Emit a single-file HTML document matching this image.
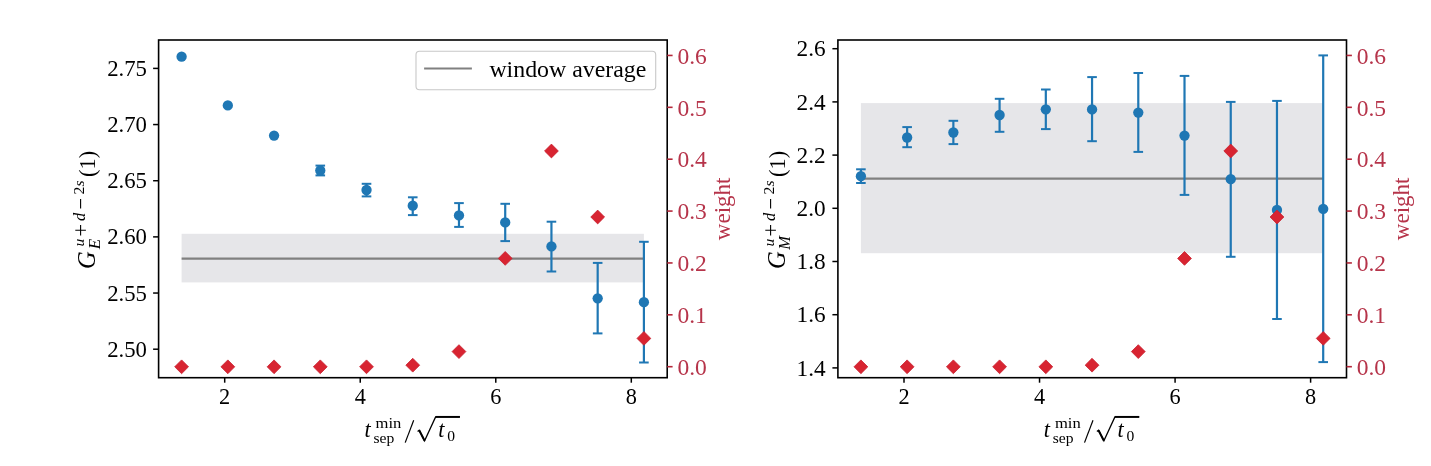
<!DOCTYPE html>
<html><head><meta charset="utf-8"><style>
html,body{margin:0;padding:0;background:#fff;}
svg{display:block;will-change:transform;}
text{font-family:"Liberation Serif",serif;}
.t{font-size:22.3px;}
.i{font-size:22.3px;font-style:italic;}
.s{font-size:15.6px;}
.si{font-size:15.6px;font-style:italic;}
</style></head><body>
<svg width="1431" height="466" viewBox="0 0 1431 466">
<rect width="1431" height="466" fill="#fff"/>
<rect x="181.6" y="233.8" width="462.3" height="48.6" fill="#e6e6e9"/>
<line x1="181.6" y1="258.6" x2="643.9" y2="258.6" stroke="#808080" stroke-width="2.3"/>
<line x1="320.29" y1="165.6" x2="320.29" y2="175.4" stroke="#1f77b4" stroke-width="2.2"/>
<line x1="315.49" y1="165.6" x2="325.09" y2="165.6" stroke="#1f77b4" stroke-width="2"/>
<line x1="315.49" y1="175.4" x2="325.09" y2="175.4" stroke="#1f77b4" stroke-width="2"/>
<line x1="366.52" y1="183.8" x2="366.52" y2="196.4" stroke="#1f77b4" stroke-width="2.2"/>
<line x1="361.72" y1="183.8" x2="371.32" y2="183.8" stroke="#1f77b4" stroke-width="2"/>
<line x1="361.72" y1="196.4" x2="371.32" y2="196.4" stroke="#1f77b4" stroke-width="2"/>
<line x1="412.75" y1="197.3" x2="412.75" y2="215.1" stroke="#1f77b4" stroke-width="2.2"/>
<line x1="407.95" y1="197.3" x2="417.55" y2="197.3" stroke="#1f77b4" stroke-width="2"/>
<line x1="407.95" y1="215.1" x2="417.55" y2="215.1" stroke="#1f77b4" stroke-width="2"/>
<line x1="458.98" y1="203.1" x2="458.98" y2="226.9" stroke="#1f77b4" stroke-width="2.2"/>
<line x1="454.18" y1="203.1" x2="463.78" y2="203.1" stroke="#1f77b4" stroke-width="2"/>
<line x1="454.18" y1="226.9" x2="463.78" y2="226.9" stroke="#1f77b4" stroke-width="2"/>
<line x1="505.21" y1="203.8" x2="505.21" y2="241.1" stroke="#1f77b4" stroke-width="2.2"/>
<line x1="500.41" y1="203.8" x2="510.01" y2="203.8" stroke="#1f77b4" stroke-width="2"/>
<line x1="500.41" y1="241.1" x2="510.01" y2="241.1" stroke="#1f77b4" stroke-width="2"/>
<line x1="551.44" y1="221.7" x2="551.44" y2="271.5" stroke="#1f77b4" stroke-width="2.2"/>
<line x1="546.64" y1="221.7" x2="556.24" y2="221.7" stroke="#1f77b4" stroke-width="2"/>
<line x1="546.64" y1="271.5" x2="556.24" y2="271.5" stroke="#1f77b4" stroke-width="2"/>
<line x1="597.67" y1="262.9" x2="597.67" y2="333.4" stroke="#1f77b4" stroke-width="2.2"/>
<line x1="592.87" y1="262.9" x2="602.47" y2="262.9" stroke="#1f77b4" stroke-width="2"/>
<line x1="592.87" y1="333.4" x2="602.47" y2="333.4" stroke="#1f77b4" stroke-width="2"/>
<line x1="643.9" y1="241.8" x2="643.9" y2="362.5" stroke="#1f77b4" stroke-width="2.2"/>
<line x1="639.1" y1="241.8" x2="648.7" y2="241.8" stroke="#1f77b4" stroke-width="2"/>
<line x1="639.1" y1="362.5" x2="648.7" y2="362.5" stroke="#1f77b4" stroke-width="2"/>
<circle cx="181.6" cy="56.7" r="5.15" fill="#1f77b4"/>
<circle cx="227.83" cy="105.4" r="5.15" fill="#1f77b4"/>
<circle cx="274.06" cy="135.6" r="5.15" fill="#1f77b4"/>
<circle cx="320.29" cy="170.5" r="5.15" fill="#1f77b4"/>
<circle cx="366.52" cy="190" r="5.15" fill="#1f77b4"/>
<circle cx="412.75" cy="205.7" r="5.15" fill="#1f77b4"/>
<circle cx="458.98" cy="215.4" r="5.15" fill="#1f77b4"/>
<circle cx="505.21" cy="222.4" r="5.15" fill="#1f77b4"/>
<circle cx="551.44" cy="246.45" r="5.15" fill="#1f77b4"/>
<circle cx="597.67" cy="298.3" r="5.15" fill="#1f77b4"/>
<circle cx="643.9" cy="302.2" r="5.15" fill="#1f77b4"/>
<path d="M181.6 359.9L188.5 366.8L181.6 373.7L174.7 366.8Z" fill="#d82431" stroke="#c8202e" stroke-width="0.8"/>
<path d="M227.83 359.9L234.73 366.8L227.83 373.7L220.93 366.8Z" fill="#d82431" stroke="#c8202e" stroke-width="0.8"/>
<path d="M274.06 359.9L280.96 366.8L274.06 373.7L267.16 366.8Z" fill="#d82431" stroke="#c8202e" stroke-width="0.8"/>
<path d="M320.29 359.9L327.19 366.8L320.29 373.7L313.39 366.8Z" fill="#d82431" stroke="#c8202e" stroke-width="0.8"/>
<path d="M366.52 359.9L373.42 366.8L366.52 373.7L359.62 366.8Z" fill="#d82431" stroke="#c8202e" stroke-width="0.8"/>
<path d="M412.75 358.3L419.65 365.2L412.75 372.1L405.85 365.2Z" fill="#d82431" stroke="#c8202e" stroke-width="0.8"/>
<path d="M458.98 344.7L465.88 351.6L458.98 358.5L452.08 351.6Z" fill="#d82431" stroke="#c8202e" stroke-width="0.8"/>
<path d="M505.21 251.5L512.11 258.4L505.21 265.3L498.31 258.4Z" fill="#d82431" stroke="#c8202e" stroke-width="0.8"/>
<path d="M551.44 144.1L558.34 151L551.44 157.9L544.54 151Z" fill="#d82431" stroke="#c8202e" stroke-width="0.8"/>
<path d="M597.67 210.1L604.57 217L597.67 223.9L590.77 217Z" fill="#d82431" stroke="#c8202e" stroke-width="0.8"/>
<path d="M643.9 331.5L650.8 338.4L643.9 345.3L637 338.4Z" fill="#d82431" stroke="#c8202e" stroke-width="0.8"/>
<rect x="158.6" y="40" width="508.6" height="337.7" fill="none" stroke="#000" stroke-width="1.6"/>
<line x1="153.1" y1="349.2" x2="158.6" y2="349.2" stroke="#000" stroke-width="1.5"/>
<text x="147" y="356.8" text-anchor="end" class="t" textLength="39.8" lengthAdjust="spacingAndGlyphs">2.50</text>
<line x1="153.1" y1="293.04" x2="158.6" y2="293.04" stroke="#000" stroke-width="1.5"/>
<text x="147" y="300.64" text-anchor="end" class="t" textLength="39.8" lengthAdjust="spacingAndGlyphs">2.55</text>
<line x1="153.1" y1="236.88" x2="158.6" y2="236.88" stroke="#000" stroke-width="1.5"/>
<text x="147" y="244.48" text-anchor="end" class="t" textLength="39.8" lengthAdjust="spacingAndGlyphs">2.60</text>
<line x1="153.1" y1="180.72" x2="158.6" y2="180.72" stroke="#000" stroke-width="1.5"/>
<text x="147" y="188.32" text-anchor="end" class="t" textLength="39.8" lengthAdjust="spacingAndGlyphs">2.65</text>
<line x1="153.1" y1="124.56" x2="158.6" y2="124.56" stroke="#000" stroke-width="1.5"/>
<text x="147" y="132.16" text-anchor="end" class="t" textLength="39.8" lengthAdjust="spacingAndGlyphs">2.70</text>
<line x1="153.1" y1="68.4" x2="158.6" y2="68.4" stroke="#000" stroke-width="1.5"/>
<text x="147" y="76" text-anchor="end" class="t" textLength="39.8" lengthAdjust="spacingAndGlyphs">2.75</text>
<line x1="224.7" y1="377.7" x2="224.7" y2="382.7" stroke="#000" stroke-width="1.5"/>
<text x="224.7" y="404.3" text-anchor="middle" class="t">2</text>
<line x1="360.24" y1="377.7" x2="360.24" y2="382.7" stroke="#000" stroke-width="1.5"/>
<text x="360.24" y="404.3" text-anchor="middle" class="t">4</text>
<line x1="495.78" y1="377.7" x2="495.78" y2="382.7" stroke="#000" stroke-width="1.5"/>
<text x="495.78" y="404.3" text-anchor="middle" class="t">6</text>
<line x1="631.3" y1="377.7" x2="631.3" y2="382.7" stroke="#000" stroke-width="1.5"/>
<text x="631.3" y="404.3" text-anchor="middle" class="t">8</text>
<line x1="667.2" y1="366.7" x2="672.6" y2="366.7" stroke="#b4283a" stroke-width="1.6"/>
<text x="677.4" y="374.9" class="t" fill="#b6344a" textLength="29.4" lengthAdjust="spacingAndGlyphs">0.0</text>
<line x1="667.2" y1="314.82" x2="672.6" y2="314.82" stroke="#b4283a" stroke-width="1.6"/>
<text x="677.4" y="323.02" class="t" fill="#b6344a" textLength="29.4" lengthAdjust="spacingAndGlyphs">0.1</text>
<line x1="667.2" y1="262.95" x2="672.6" y2="262.95" stroke="#b4283a" stroke-width="1.6"/>
<text x="677.4" y="271.15" class="t" fill="#b6344a" textLength="29.4" lengthAdjust="spacingAndGlyphs">0.2</text>
<line x1="667.2" y1="211.07" x2="672.6" y2="211.07" stroke="#b4283a" stroke-width="1.6"/>
<text x="677.4" y="219.27" class="t" fill="#b6344a" textLength="29.4" lengthAdjust="spacingAndGlyphs">0.3</text>
<line x1="667.2" y1="159.2" x2="672.6" y2="159.2" stroke="#b4283a" stroke-width="1.6"/>
<text x="677.4" y="167.4" class="t" fill="#b6344a" textLength="29.4" lengthAdjust="spacingAndGlyphs">0.4</text>
<line x1="667.2" y1="107.32" x2="672.6" y2="107.32" stroke="#b4283a" stroke-width="1.6"/>
<text x="677.4" y="115.52" class="t" fill="#b6344a" textLength="29.4" lengthAdjust="spacingAndGlyphs">0.5</text>
<line x1="667.2" y1="55.45" x2="672.6" y2="55.45" stroke="#b4283a" stroke-width="1.6"/>
<text x="677.4" y="63.65" class="t" fill="#b6344a" textLength="29.4" lengthAdjust="spacingAndGlyphs">0.6</text>
<text transform="translate(729.6,208.75) rotate(-90)" x="-31.4" class="t" fill="#b6344a" textLength="62.6" lengthAdjust="spacingAndGlyphs">weight</text>
<g transform="translate(94.5,209.4) rotate(-90)"><text x="-59.6" y="0.4" class="i" style="font-size:24.5px">G</text><text x="-39.8" y="5.6" class="si" style="font-size:17px">E</text><text x="-37.0" y="-10.3" class="si">u</text><path d="M-26.2 -13.9H-15.5M-20.85 -19.2V-8.6" stroke="#000" stroke-width="1.1" fill="none"/><text x="-11.6" y="-9.5" class="si" style="font-size:16.5px">d</text><path d="M0.8 -13.9H10.3" stroke="#000" stroke-width="1.1" fill="none"/><text x="15" y="-10.3" class="s">2<tspan class="si">s</tspan></text><text x="32.5" y="0" class="t">(1)</text></g>
<g transform="translate(0,0)"><text x="364.5" y="437.2" class="i">t</text><text x="375.6" y="428.1" class="s" textLength="25.8" lengthAdjust="spacingAndGlyphs">min</text><text x="373.5" y="442.8" class="s">sep</text><path d="M413.7 420.3L405.2 442.6" stroke="#000" stroke-width="1.2" fill="none"/><path d="M417.6 431.4L419.2 430.2L424.6 440.8L435.6 416.9L459.9 416.9" stroke="#000" stroke-width="1.3" fill="none" stroke-linejoin="miter"/><path d="M419.2 430.2L424.6 440.8" stroke="#000" stroke-width="2" fill="none"/><line x1="435.6" y1="416.9" x2="459.9" y2="416.9" stroke="#000" stroke-width="1.9"/><text x="438.3" y="437.2" class="i">t</text><text x="447.3" y="441.3" class="s">0</text></g>
<rect x="416.0" y="51.3" width="239.7" height="38.5" rx="3.5" fill="#fff" stroke="#c8c8c8" stroke-width="1.1"/>
<line x1="424.1" y1="68.5" x2="471.9" y2="68.5" stroke="#808080" stroke-width="2.1"/>
<text x="489.4" y="76.6" class="t" textLength="157" lengthAdjust="spacingAndGlyphs">window average</text>
<rect x="860.9" y="103.1" width="462.3" height="150.1" fill="#e6e6e9"/>
<line x1="860.9" y1="178.7" x2="1323.2" y2="178.7" stroke="#808080" stroke-width="2.3"/>
<line x1="860.9" y1="169.3" x2="860.9" y2="183" stroke="#1f77b4" stroke-width="2.2"/>
<line x1="856.1" y1="169.3" x2="865.7" y2="169.3" stroke="#1f77b4" stroke-width="2"/>
<line x1="856.1" y1="183" x2="865.7" y2="183" stroke="#1f77b4" stroke-width="2"/>
<line x1="907.13" y1="127.1" x2="907.13" y2="147.2" stroke="#1f77b4" stroke-width="2.2"/>
<line x1="902.33" y1="127.1" x2="911.93" y2="127.1" stroke="#1f77b4" stroke-width="2"/>
<line x1="902.33" y1="147.2" x2="911.93" y2="147.2" stroke="#1f77b4" stroke-width="2"/>
<line x1="953.36" y1="120.8" x2="953.36" y2="144.1" stroke="#1f77b4" stroke-width="2.2"/>
<line x1="948.56" y1="120.8" x2="958.16" y2="120.8" stroke="#1f77b4" stroke-width="2"/>
<line x1="948.56" y1="144.1" x2="958.16" y2="144.1" stroke="#1f77b4" stroke-width="2"/>
<line x1="999.59" y1="98.8" x2="999.59" y2="131.8" stroke="#1f77b4" stroke-width="2.2"/>
<line x1="994.79" y1="98.8" x2="1004.39" y2="98.8" stroke="#1f77b4" stroke-width="2"/>
<line x1="994.79" y1="131.8" x2="1004.39" y2="131.8" stroke="#1f77b4" stroke-width="2"/>
<line x1="1045.82" y1="89.5" x2="1045.82" y2="129.1" stroke="#1f77b4" stroke-width="2.2"/>
<line x1="1041.02" y1="89.5" x2="1050.62" y2="89.5" stroke="#1f77b4" stroke-width="2"/>
<line x1="1041.02" y1="129.1" x2="1050.62" y2="129.1" stroke="#1f77b4" stroke-width="2"/>
<line x1="1092.05" y1="77.1" x2="1092.05" y2="141.2" stroke="#1f77b4" stroke-width="2.2"/>
<line x1="1087.25" y1="77.1" x2="1096.85" y2="77.1" stroke="#1f77b4" stroke-width="2"/>
<line x1="1087.25" y1="141.2" x2="1096.85" y2="141.2" stroke="#1f77b4" stroke-width="2"/>
<line x1="1138.28" y1="73" x2="1138.28" y2="151.9" stroke="#1f77b4" stroke-width="2.2"/>
<line x1="1133.48" y1="73" x2="1143.08" y2="73" stroke="#1f77b4" stroke-width="2"/>
<line x1="1133.48" y1="151.9" x2="1143.08" y2="151.9" stroke="#1f77b4" stroke-width="2"/>
<line x1="1184.51" y1="75.9" x2="1184.51" y2="194.9" stroke="#1f77b4" stroke-width="2.2"/>
<line x1="1179.71" y1="75.9" x2="1189.31" y2="75.9" stroke="#1f77b4" stroke-width="2"/>
<line x1="1179.71" y1="194.9" x2="1189.31" y2="194.9" stroke="#1f77b4" stroke-width="2"/>
<line x1="1230.74" y1="101.9" x2="1230.74" y2="256.8" stroke="#1f77b4" stroke-width="2.2"/>
<line x1="1225.94" y1="101.9" x2="1235.54" y2="101.9" stroke="#1f77b4" stroke-width="2"/>
<line x1="1225.94" y1="256.8" x2="1235.54" y2="256.8" stroke="#1f77b4" stroke-width="2"/>
<line x1="1276.97" y1="100.9" x2="1276.97" y2="319" stroke="#1f77b4" stroke-width="2.2"/>
<line x1="1272.17" y1="100.9" x2="1281.77" y2="100.9" stroke="#1f77b4" stroke-width="2"/>
<line x1="1272.17" y1="319" x2="1281.77" y2="319" stroke="#1f77b4" stroke-width="2"/>
<line x1="1323.2" y1="55.4" x2="1323.2" y2="362.1" stroke="#1f77b4" stroke-width="2.2"/>
<line x1="1318.4" y1="55.4" x2="1328" y2="55.4" stroke="#1f77b4" stroke-width="2"/>
<line x1="1318.4" y1="362.1" x2="1328" y2="362.1" stroke="#1f77b4" stroke-width="2"/>
<circle cx="860.9" cy="176.2" r="5.15" fill="#1f77b4"/>
<circle cx="907.13" cy="137.5" r="5.15" fill="#1f77b4"/>
<circle cx="953.36" cy="132.5" r="5.15" fill="#1f77b4"/>
<circle cx="999.59" cy="115" r="5.15" fill="#1f77b4"/>
<circle cx="1045.82" cy="109.3" r="5.15" fill="#1f77b4"/>
<circle cx="1092.05" cy="109.4" r="5.15" fill="#1f77b4"/>
<circle cx="1138.28" cy="112.6" r="5.15" fill="#1f77b4"/>
<circle cx="1184.51" cy="135.6" r="5.15" fill="#1f77b4"/>
<circle cx="1230.74" cy="179.2" r="5.15" fill="#1f77b4"/>
<circle cx="1276.97" cy="210" r="5.15" fill="#1f77b4"/>
<circle cx="1323.2" cy="208.9" r="5.15" fill="#1f77b4"/>
<path d="M860.9 359.9L867.8 366.8L860.9 373.7L854 366.8Z" fill="#d82431" stroke="#c8202e" stroke-width="0.8"/>
<path d="M907.13 359.9L914.03 366.8L907.13 373.7L900.23 366.8Z" fill="#d82431" stroke="#c8202e" stroke-width="0.8"/>
<path d="M953.36 359.9L960.26 366.8L953.36 373.7L946.46 366.8Z" fill="#d82431" stroke="#c8202e" stroke-width="0.8"/>
<path d="M999.59 359.9L1006.49 366.8L999.59 373.7L992.69 366.8Z" fill="#d82431" stroke="#c8202e" stroke-width="0.8"/>
<path d="M1045.82 359.9L1052.72 366.8L1045.82 373.7L1038.92 366.8Z" fill="#d82431" stroke="#c8202e" stroke-width="0.8"/>
<path d="M1092.05 358.3L1098.95 365.2L1092.05 372.1L1085.15 365.2Z" fill="#d82431" stroke="#c8202e" stroke-width="0.8"/>
<path d="M1138.28 344.7L1145.18 351.6L1138.28 358.5L1131.38 351.6Z" fill="#d82431" stroke="#c8202e" stroke-width="0.8"/>
<path d="M1184.51 251.5L1191.41 258.4L1184.51 265.3L1177.61 258.4Z" fill="#d82431" stroke="#c8202e" stroke-width="0.8"/>
<path d="M1230.74 144.1L1237.64 151L1230.74 157.9L1223.84 151Z" fill="#d82431" stroke="#c8202e" stroke-width="0.8"/>
<path d="M1276.97 210.1L1283.87 217L1276.97 223.9L1270.07 217Z" fill="#d82431" stroke="#c8202e" stroke-width="0.8"/>
<path d="M1323.2 331.5L1330.1 338.4L1323.2 345.3L1316.3 338.4Z" fill="#d82431" stroke="#c8202e" stroke-width="0.8"/>
<rect x="837.9" y="40" width="508.6" height="337.7" fill="none" stroke="#000" stroke-width="1.6"/>
<line x1="832.4" y1="367.9" x2="837.9" y2="367.9" stroke="#000" stroke-width="1.5"/>
<text x="825.6" y="375.5" text-anchor="end" class="t" textLength="29.1" lengthAdjust="spacingAndGlyphs">1.4</text>
<line x1="832.4" y1="314.7" x2="837.9" y2="314.7" stroke="#000" stroke-width="1.5"/>
<text x="825.6" y="322.3" text-anchor="end" class="t" textLength="29.1" lengthAdjust="spacingAndGlyphs">1.6</text>
<line x1="832.4" y1="261.5" x2="837.9" y2="261.5" stroke="#000" stroke-width="1.5"/>
<text x="825.6" y="269.1" text-anchor="end" class="t" textLength="29.1" lengthAdjust="spacingAndGlyphs">1.8</text>
<line x1="832.4" y1="208.3" x2="837.9" y2="208.3" stroke="#000" stroke-width="1.5"/>
<text x="825.6" y="215.9" text-anchor="end" class="t" textLength="29.1" lengthAdjust="spacingAndGlyphs">2.0</text>
<line x1="832.4" y1="155.1" x2="837.9" y2="155.1" stroke="#000" stroke-width="1.5"/>
<text x="825.6" y="162.7" text-anchor="end" class="t" textLength="29.1" lengthAdjust="spacingAndGlyphs">2.2</text>
<line x1="832.4" y1="101.9" x2="837.9" y2="101.9" stroke="#000" stroke-width="1.5"/>
<text x="825.6" y="109.5" text-anchor="end" class="t" textLength="29.1" lengthAdjust="spacingAndGlyphs">2.4</text>
<line x1="832.4" y1="48.7" x2="837.9" y2="48.7" stroke="#000" stroke-width="1.5"/>
<text x="825.6" y="56.3" text-anchor="end" class="t" textLength="29.1" lengthAdjust="spacingAndGlyphs">2.6</text>
<line x1="904" y1="377.7" x2="904" y2="382.7" stroke="#000" stroke-width="1.5"/>
<text x="904" y="404.3" text-anchor="middle" class="t">2</text>
<line x1="1039.54" y1="377.7" x2="1039.54" y2="382.7" stroke="#000" stroke-width="1.5"/>
<text x="1039.54" y="404.3" text-anchor="middle" class="t">4</text>
<line x1="1175.08" y1="377.7" x2="1175.08" y2="382.7" stroke="#000" stroke-width="1.5"/>
<text x="1175.08" y="404.3" text-anchor="middle" class="t">6</text>
<line x1="1310.6" y1="377.7" x2="1310.6" y2="382.7" stroke="#000" stroke-width="1.5"/>
<text x="1310.6" y="404.3" text-anchor="middle" class="t">8</text>
<line x1="1346.5" y1="366.7" x2="1351.9" y2="366.7" stroke="#b4283a" stroke-width="1.6"/>
<text x="1356.7" y="374.9" class="t" fill="#b6344a" textLength="29.4" lengthAdjust="spacingAndGlyphs">0.0</text>
<line x1="1346.5" y1="314.82" x2="1351.9" y2="314.82" stroke="#b4283a" stroke-width="1.6"/>
<text x="1356.7" y="323.02" class="t" fill="#b6344a" textLength="29.4" lengthAdjust="spacingAndGlyphs">0.1</text>
<line x1="1346.5" y1="262.95" x2="1351.9" y2="262.95" stroke="#b4283a" stroke-width="1.6"/>
<text x="1356.7" y="271.15" class="t" fill="#b6344a" textLength="29.4" lengthAdjust="spacingAndGlyphs">0.2</text>
<line x1="1346.5" y1="211.07" x2="1351.9" y2="211.07" stroke="#b4283a" stroke-width="1.6"/>
<text x="1356.7" y="219.27" class="t" fill="#b6344a" textLength="29.4" lengthAdjust="spacingAndGlyphs">0.3</text>
<line x1="1346.5" y1="159.2" x2="1351.9" y2="159.2" stroke="#b4283a" stroke-width="1.6"/>
<text x="1356.7" y="167.4" class="t" fill="#b6344a" textLength="29.4" lengthAdjust="spacingAndGlyphs">0.4</text>
<line x1="1346.5" y1="107.32" x2="1351.9" y2="107.32" stroke="#b4283a" stroke-width="1.6"/>
<text x="1356.7" y="115.52" class="t" fill="#b6344a" textLength="29.4" lengthAdjust="spacingAndGlyphs">0.5</text>
<line x1="1346.5" y1="55.45" x2="1351.9" y2="55.45" stroke="#b4283a" stroke-width="1.6"/>
<text x="1356.7" y="63.65" class="t" fill="#b6344a" textLength="29.4" lengthAdjust="spacingAndGlyphs">0.6</text>
<text transform="translate(1408.9,208.75) rotate(-90)" x="-31.4" class="t" fill="#b6344a" textLength="62.6" lengthAdjust="spacingAndGlyphs">weight</text>
<g transform="translate(784.5,209.4) rotate(-90)"><text x="-59.6" y="0.4" class="i" style="font-size:24.5px">G</text><text x="-40.4" y="5.6" class="si" style="font-size:16.5px">M</text><text x="-37.0" y="-10.3" class="si">u</text><path d="M-26.2 -13.9H-15.5M-20.85 -19.2V-8.6" stroke="#000" stroke-width="1.1" fill="none"/><text x="-11.6" y="-9.5" class="si" style="font-size:16.5px">d</text><path d="M0.8 -13.9H10.3" stroke="#000" stroke-width="1.1" fill="none"/><text x="15" y="-10.3" class="s">2<tspan class="si">s</tspan></text><text x="32.5" y="0" class="t">(1)</text></g>
<g transform="translate(679.3,0)"><text x="364.5" y="437.2" class="i">t</text><text x="375.6" y="428.1" class="s" textLength="25.8" lengthAdjust="spacingAndGlyphs">min</text><text x="373.5" y="442.8" class="s">sep</text><path d="M413.7 420.3L405.2 442.6" stroke="#000" stroke-width="1.2" fill="none"/><path d="M417.6 431.4L419.2 430.2L424.6 440.8L435.6 416.9L459.9 416.9" stroke="#000" stroke-width="1.3" fill="none" stroke-linejoin="miter"/><path d="M419.2 430.2L424.6 440.8" stroke="#000" stroke-width="2" fill="none"/><line x1="435.6" y1="416.9" x2="459.9" y2="416.9" stroke="#000" stroke-width="1.9"/><text x="438.3" y="437.2" class="i">t</text><text x="447.3" y="441.3" class="s">0</text></g>
</svg>
</body></html>
